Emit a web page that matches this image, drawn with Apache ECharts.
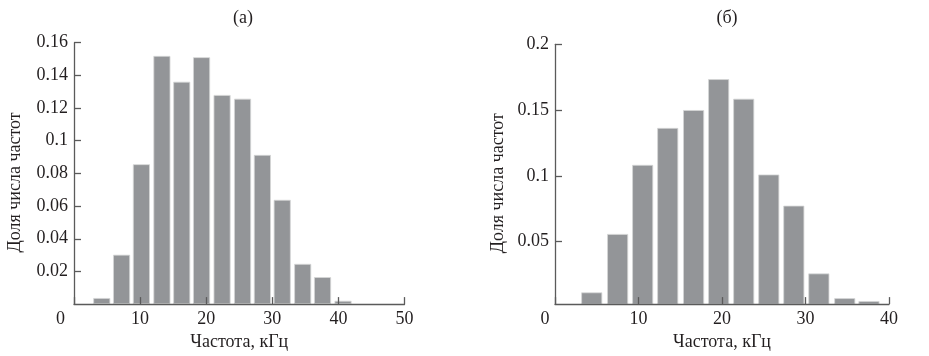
<!DOCTYPE html>
<html>
<head>
<meta charset="utf-8">
<script src="https://cdn.jsdelivr.net/npm/echarts@6/dist/echarts.min.js"></script>
<style>
html,body{margin:0;padding:0;background:#fff;}
#chart{width:929px;height:356px;}
</style>
</head>
<body>
<div id="chart"></div>
<script>
// Panel (a)
const binCentersA = [4.2, 7.2, 10.2, 13.3, 16.3, 19.3, 22.4, 25.5, 28.5, 31.5, 34.6, 37.6, 40.7];
const sharesA = [0.0037, 0.0302, 0.0856, 0.1519, 0.1361, 0.1511, 0.128, 0.1257, 0.0913, 0.0638, 0.0246, 0.0165, 0.002];
// Panel (б)
const binCentersB = [4.4, 7.5, 10.5, 13.5, 16.6, 19.6, 22.6, 25.6, 28.6, 31.6, 34.7, 37.6];
const sharesB = [0.0114, 0.0558, 0.1083, 0.1364, 0.15, 0.1735, 0.1586, 0.101, 0.0773, 0.0258, 0.007, 0.0048];
// Tick labels
const yTicksB = [0.05, 0.1, 0.15, 0.2];
const titles = ['(а)', '(б)'];
const xName = 'Частота, кГц';
const yName = 'Доля числа частот';

const FONT = '"Liberation Serif", "DejaVu Serif", serif';
const TXT = '#231f20';
const AX = '#5a5a5a';
const BAR = '#939598';

function xAxisCfg(gridIndex, max, zeroPad) {
  return {
    type: 'value', gridIndex, min: 0, max, interval: 10, z: 5,
    name: xName, nameLocation: 'middle', nameGap: 28,
    nameTextStyle: {fontFamily: FONT, fontSize: 18, color: TXT},
    axisLine: {show: true, onZero: false, lineStyle: {color: AX, width: 1.3}},
    axisTick: {show: true, inside: true, length: 7, lineStyle: {color: AX, width: 1.3}},
    splitLine: {show: false},
    axisLabel: {
      fontFamily: FONT, fontSize: 18, color: TXT, margin: 6,
      formatter: v => v === 0 ? '{z|0}' : String(v),
      rich: {z: {fontFamily: FONT, fontSize: 18, color: TXT, padding: [0, zeroPad, 0, 0]}}
    }
  };
}
function yAxisCfg(gridIndex, extra, gap) {
  return Object.assign({
    type: 'value', gridIndex, z: 5,
    name: yName, nameLocation: 'middle', nameRotate: 90, nameGap: gap,
    nameTextStyle: {fontFamily: FONT, fontSize: 18, color: TXT, padding: [0, 18, 0, 0]},
    axisLine: {show: true, onZero: false, lineStyle: {color: AX, width: 1.3}},
    axisTick: {show: true, inside: true, length: 7, lineStyle: {color: AX, width: 1.3}},
    splitLine: {show: false}
  }, extra);
}

const chart = echarts.init(document.getElementById('chart'), null, {renderer: 'canvas'});
chart.setOption({
  backgroundColor: '#ffffff',
  animation: false,
  title: [
    {text: titles[0], left: 238, top: 4, textAlign: 'center', textStyle: {fontFamily: FONT, fontSize: 18, fontWeight: 'normal', color: TXT}},
    {text: titles[1], left: 722, top: 4, textAlign: 'center', textStyle: {fontFamily: FONT, fontSize: 18, fontWeight: 'normal', color: TXT}}
  ],
  grid: [
    {left: 74, top: 42.7, width: 330.5, height: 261.6},
    {left: 555, top: 44.3, width: 334, height: 260}
  ],
  xAxis: [xAxisCfg(0, 50, 27), xAxisCfg(1, 40, 20)],
  yAxis: [
    yAxisCfg(0, {
      min: 0, max: 0.16, interval: 0.02,
      axisLabel: {fontFamily: FONT, fontSize: 18, color: TXT, margin: 6, showMinLabel: false}
    }, 50),
    yAxisCfg(1, {
      min: 0.0025, max: 0.2,
      axisLabel: {fontFamily: FONT, fontSize: 18, color: TXT, margin: 6, customValues: yTicksB},
      axisTick: {show: true, inside: true, length: 7, lineStyle: {color: AX, width: 1.3}, customValues: yTicksB}
    }, 48)
  ],
  series: [
    {
      type: 'bar', xAxisIndex: 0, yAxisIndex: 0, barWidth: 17,
      data: binCentersA.map((c, i) => [c, sharesA[i]]),
      itemStyle: {color: BAR, borderColor: '#d4d5d6', borderWidth: 0.8}
    },
    {
      type: 'bar', xAxisIndex: 1, yAxisIndex: 1, barWidth: 21,
      data: binCentersB.map((c, i) => [c, sharesB[i]]),
      itemStyle: {color: BAR, borderColor: '#d4d5d6', borderWidth: 0.8}
    }
  ]
});
</script>
</body>
</html>
